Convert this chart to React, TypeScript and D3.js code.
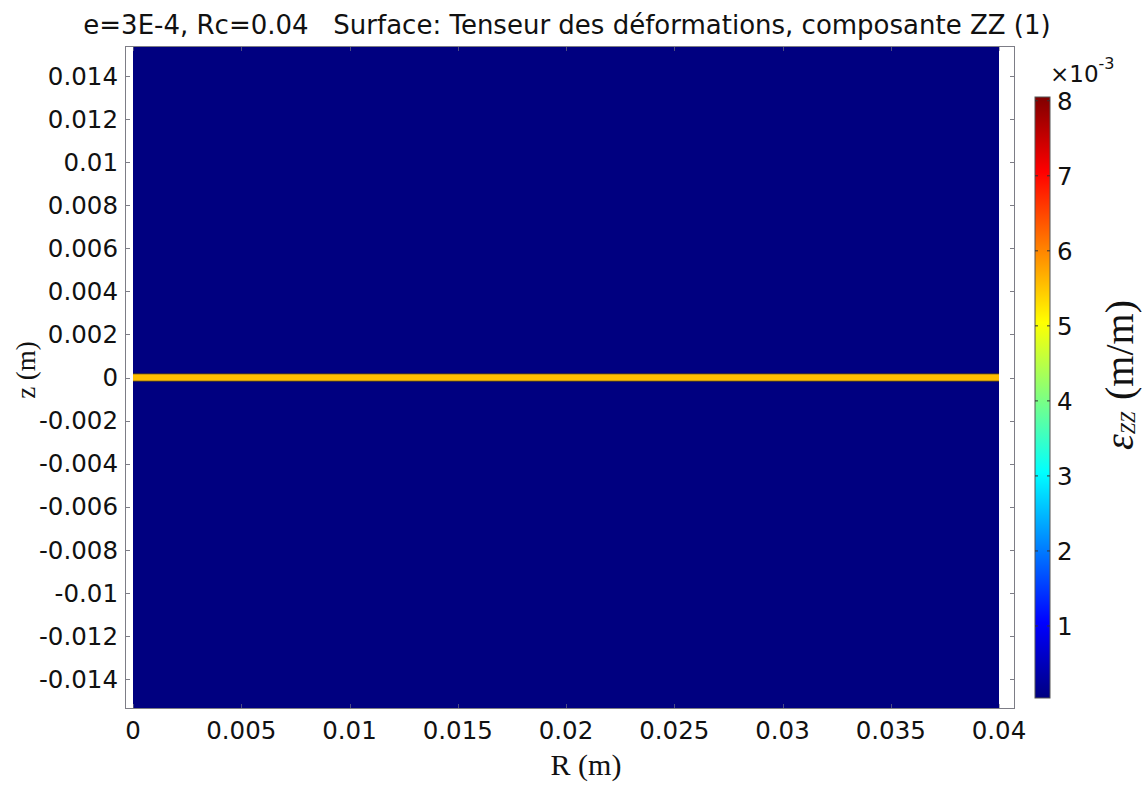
import React from "react";
import * as d3 from "d3";

// ---- data ----
const R_DOMAIN = [0, 0.04];
const Z_DOMAIN = [-0.0154, 0.0154];
const R_TICKS = [0, 0.005, 0.01, 0.015, 0.02, 0.025, 0.03, 0.035, 0.04];
const Z_TICKS = [0.014, 0.012, 0.01, 0.008, 0.006, 0.004, 0.002, 0, -0.002, -0.004, -0.006, -0.008, -0.01, -0.012, -0.014];
const CB_TICKS = [1, 2, 3, 4, 5, 6, 7, 8];
const CB_RANGE = [0.04, 8.05]; // ×10^-3
const LAYER_Z = [-0.00015, 0.00015]; // e = 3E-4
const LAYER_VALUE = 5.55; // ×10^-3
const BACKGROUND_VALUE = 0.04; // ×10^-3
const TITLE = "e=3E-4, Rc=0.04   Surface: Tenseur des déformations, composante ZZ (1)";

// ---- layout ----
const W = 1148, H = 787;
const X0 = 133, X1 = 999; // R=0 .. R=0.04
const FRAME = { left: 125, right: 1015, top: 46, bottom: 709 };
const CB = { x: 1035, w: 15, top: 97, bottom: 698 };
const SANS = "'DejaVu Sans', Verdana, sans-serif";
const SERIF = "'Liberation Serif', 'Times New Roman', serif";

const JET_STOPS: [number, string][] = [
  [0, "#000080"], [0.125, "#0000ff"], [0.375, "#00ffff"], [0.625, "#ffff00"], [0.875, "#ff0000"], [1, "#800000"],
];
const jet = d3.scaleLinear<string>()
  .domain(JET_STOPS.map((s) => s[0]))
  .range(JET_STOPS.map((s) => s[1]))
  .interpolate(d3.interpolateRgb)
  .clamp(true);

const fmt = (v: number) => {
  const s = String(+v.toFixed(4));
  return s === "-0" ? "0" : s;
};

export default function App() {
  const x = d3.scaleLinear().domain(R_DOMAIN).range([X0, X1]);
  const z = d3.scaleLinear().domain(Z_DOMAIN).range([FRAME.bottom, FRAME.top]);
  const cbT = d3.scaleLinear().domain(CB_RANGE).range([0, 1]);
  const cbY = d3.scaleLinear().domain(CB_RANGE).range([CB.bottom, CB.top]);
  const color = (v: number) => jet(cbT(v));
  const tickLen = 5;
  const frameColor = "#7d7d86";

  return (
    <svg width={W} height={H} style={{ position: "absolute", left: 0, top: 0, background: "#fff" }}>
      <defs>
        <linearGradient id="jet" x1="0" y1="1" x2="0" y2="0">
          {JET_STOPS.map(([t, c]) => (
            <stop key={t} offset={t} stopColor={c} />
          ))}
        </linearGradient>
      </defs>
      <rect width={W} height={H} fill="#fff" />

      {/* title */}
      <text x={567} y={34} textAnchor="middle" fontFamily={SANS} fontSize={26} fill="#111">
        {TITLE.replace(/ /g, "\u00a0")}
      </text>

      {/* frame background */}
      <rect x={FRAME.left} y={FRAME.top} width={FRAME.right - FRAME.left} height={FRAME.bottom - FRAME.top} fill="#fff" />

      {/* surface */}
      <rect x={x(R_DOMAIN[0])} y={z(Z_DOMAIN[1])} width={x(R_DOMAIN[1]) - x(R_DOMAIN[0])} height={z(Z_DOMAIN[0]) - z(Z_DOMAIN[1])} fill={color(BACKGROUND_VALUE)} />
      <rect x={x(R_DOMAIN[0])} y={z(LAYER_Z[1]) - 1} width={x(R_DOMAIN[1]) - x(R_DOMAIN[0])} height={z(LAYER_Z[0]) - z(LAYER_Z[1]) + 2} fill="#4a3a28" />
      <rect x={x(R_DOMAIN[0])} y={z(LAYER_Z[1])} width={x(R_DOMAIN[1]) - x(R_DOMAIN[0])} height={z(LAYER_Z[0]) - z(LAYER_Z[1])} fill={color(LAYER_VALUE)} />

      {/* frame */}
      <rect x={FRAME.left + 0.5} y={FRAME.top + 0.5} width={FRAME.right - FRAME.left - 1} height={FRAME.bottom - FRAME.top - 1} fill="none" stroke={frameColor} strokeWidth={1} />

      {/* ticks */}
      {Z_TICKS.map((t) => (
        <g key={"z" + t}>
          <line x1={FRAME.left} x2={FRAME.left + tickLen} y1={Math.round(z(t)) + 0.5} y2={Math.round(z(t)) + 0.5} stroke={frameColor} />
          <line x1={FRAME.right - tickLen} x2={FRAME.right} y1={Math.round(z(t)) + 0.5} y2={Math.round(z(t)) + 0.5} stroke={frameColor} />
          <text x={118} y={z(t)} dy="0.36em" textAnchor="end" fontFamily={SANS} fontSize={24.5} fill="#111">
            {fmt(t)}
          </text>
        </g>
      ))}
      {R_TICKS.map((t) => (
        <g key={"r" + t}>
          <line x1={Math.round(x(t)) + 0.5} x2={Math.round(x(t)) + 0.5} y1={FRAME.top} y2={FRAME.top + tickLen} stroke={frameColor} opacity={0.6} />
          <line x1={Math.round(x(t)) + 0.5} x2={Math.round(x(t)) + 0.5} y1={FRAME.bottom - tickLen} y2={FRAME.bottom} stroke={frameColor} opacity={0.6} />
          <text x={x(t)} y={739} textAnchor="middle" fontFamily={SANS} fontSize={24.5} fill="#111">
            {fmt(t)}
          </text>
        </g>
      ))}

      {/* axis labels */}
      <text x={586} y={775} textAnchor="middle" fontFamily={SERIF} fontSize={30} fill="#111">
        R (m)
      </text>
      <text transform="translate(35,370) rotate(-90)" textAnchor="middle" fontFamily={SERIF} fontSize={27} fill="#111">
        z (m)
      </text>

      {/* colorbar */}
      <rect x={CB.x} y={CB.top} width={CB.w} height={CB.bottom - CB.top} fill="url(#jet)" stroke="#555" strokeWidth={1} />
      {CB_TICKS.map((t) => (
        <g key={"c" + t}>
          <line x1={CB.x} x2={CB.x + 3} y1={cbY(t)} y2={cbY(t)} stroke="#333" />
          <line x1={CB.x + CB.w - 3} x2={CB.x + CB.w} y1={cbY(t)} y2={cbY(t)} stroke="#333" />
          <text x={1057} y={cbY(t)} dy="0.36em" fontFamily={SANS} fontSize={24.5} fill="#111">
            {t}
          </text>
        </g>
      ))}
      <text x={1050} y={82} fontFamily={SANS} fontSize={23} fill="#111">
        ×10<tspan fontSize={16} dy={-13}>-3</tspan>
      </text>
      <text transform="translate(1133,375) rotate(-90)" textAnchor="middle" fontFamily={SERIF} fontSize={40} fill="#111">
        <tspan fontStyle="italic">ε</tspan>
        <tspan fontStyle="italic" fontSize={20} dy={2}>ZZ</tspan>
        <tspan dy={-2} dx={12}>(m/m)</tspan>
      </text>
    </svg>
  );
}
